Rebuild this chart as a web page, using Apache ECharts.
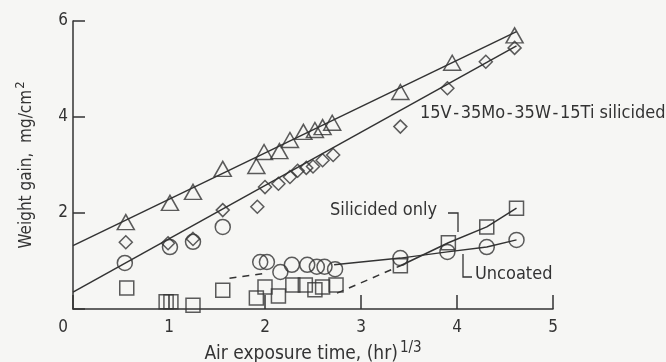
<!DOCTYPE html>
<html>
<head>
<meta charset="utf-8">
<script src="https://cdn.jsdelivr.net/npm/echarts@6/dist/echarts.min.js"></script>
<style>
  html, body { margin: 0; padding: 0; background: #f6f6f4; }
  #chart { width: 666px; height: 362px; }
</style>
</head>
<body>
<div id="chart"></div>
<script>
// [time^(1/3), weight gain]
const triangles = [[0.55, 1.81], [1.01, 2.21], [1.25, 2.44], [1.56, 2.92], [1.91, 2.98], [1.99, 3.27], [2.15, 3.29],
  [2.26, 3.52], [2.40, 3.69], [2.52, 3.73], [2.60, 3.79], [2.70, 3.88], [3.41, 4.52], [3.95, 5.13], [4.60, 5.70]]
const diamonds = [[0.55, 1.39], [0.99, 1.37], [1.25, 1.46], [1.56, 2.06], [1.92, 2.13], [2.00, 2.54], [2.14, 2.61],
  [2.26, 2.75], [2.34, 2.88], [2.43, 2.94], [2.50, 2.97], [2.60, 3.10], [2.71, 3.21], [3.41, 3.80], [3.90, 4.60],
  [4.30, 5.15], [4.60, 5.44]]
const circles = [[0.54, 0.96], [1.01, 1.29], [1.25, 1.40], [1.56, 1.71], [1.95, 0.98], [2.02, 0.98], [2.16, 0.77],
  [2.28, 0.92], [2.44, 0.92], [2.54, 0.88], [2.62, 0.88], [2.73, 0.83], [3.41, 1.06], [3.90, 1.19], [4.31, 1.29],
  [4.62, 1.44]]
const squares = [[0.56, 0.44], [0.97, 0.15], [1.02, 0.15], [1.25, 0.08], [1.56, 0.39], [1.91, 0.23], [2.00, 0.46],
  [2.14, 0.27], [2.29, 0.50], [2.42, 0.50], [2.52, 0.40], [2.60, 0.46], [2.74, 0.50], [3.41, 0.90], [3.91, 1.38],
  [4.31, 1.71], [4.62, 2.10]]

const fitTop = [[0, 1.32], [4.62, 5.78]]
const fitMid = [[0, 0.35], [4.62, 5.48]]
const uncoatedLine = [[2.72, 0.92], [3.41, 1.06], [3.90, 1.19], [4.31, 1.29], [4.62, 1.44]]
const silicidedLine = [[3.41, 0.90], [3.91, 1.38], [4.31, 1.71], [4.62, 2.10]]
const dashA = [[1.63, 0.64], [2.02, 0.75]]
const dashB = [[2.75, 0.33], [3.41, 0.90]]

const xTicks = [0, 1, 2, 3, 4, 5]
const yTicks = [2, 4, 6]

const ink = '#333'
const font = '"DejaVu Sans Condensed", "DejaVu Sans", sans-serif'

const chart = echarts.init(document.getElementById('chart'))

const markers = (data, symbol, size) => ({
  type: 'scatter',
  data,
  symbol,
  symbolSize: size,
  itemStyle: { color: 'transparent', borderColor: ink, borderWidth: 1.5 },
  z: 3
})
const line = (data, dashed) => ({
  type: 'line',
  data,
  symbol: 'none',
  lineStyle: { color: ink, width: 1.5, type: dashed ? [7, 6] : 'solid' },
  z: 2
})

chart.setOption({
  backgroundColor: '#f6f6f4',
  animation: false,
  grid: { left: 73, right: 113, top: 21, bottom: 53, containLabel: false, outerBoundsMode: 'none' },
  xAxis: {
    type: 'value',
    min: 0,
    max: 5,
    interval: 1,
    name: 'Air exposure time, (hr){sup|1/3}',
    nameLocation: 'middle',
    nameGap: 15,
    nameTextStyle: {
      color: ink, fontSize: 19, fontFamily: font,
      rich: { sup: { fontSize: 15, fontFamily: font, color: ink, padding: [0, 0, 12, 2] } }
    },
    axisLine: { lineStyle: { color: ink, width: 1.5 } },
    axisTick: { inside: true, length: 14, lineStyle: { color: ink, width: 1.5 } },
    splitLine: { show: false },
    axisLabel: {
      color: ink, fontSize: 17, fontFamily: font, margin: 10,
      formatter: (v) => xTicks.includes(v) ? (v === 0 ? '{z|0}' : String(v)) : '',
      rich: { z: { fontSize: 17, fontFamily: font, color: ink, padding: [0, 20, 0, 0] } }
    }
  },
  yAxis: {
    type: 'value',
    min: 0,
    max: 6,
    interval: 2,
    name: 'Weight gain,  mg/cm{sup|2}',
    nameLocation: 'middle',
    nameRotate: 90,
    nameGap: 34,
    nameTextStyle: {
      color: ink, fontSize: 17, fontFamily: font,
      rich: { sup: { fontSize: 13, fontFamily: font, color: ink, padding: [0, 0, 12, 1] } }
    },
    axisLine: { show: true, lineStyle: { color: ink, width: 1.5 } },
    axisTick: { inside: true, length: 12, lineStyle: { color: ink, width: 1.5 } },
    splitLine: { show: false },
    axisLabel: {
      color: ink, fontSize: 17, fontFamily: font, margin: 5,
      formatter: (v) => yTicks.includes(v) ? String(v) : ''
    }
  },
  graphic: [
    { type: 'text', left: 420, top: 104, style: { text: '15V\u200a-\u200a35Mo\u200a-\u200a35W\u200a-\u200a15Ti silicided', fill: ink, font: '18px ' + font } },
    { type: 'text', left: 330, top: 201, style: { text: 'Silicided only', fill: ink, font: '18px ' + font } },
    { type: 'text', left: 475, top: 265, style: { text: 'Uncoated', fill: ink, font: '18px ' + font } },
    { type: 'polyline', shape: { points: [[448, 213], [458, 213], [458, 232]] }, style: { stroke: ink, lineWidth: 1.3, fill: null } },
    { type: 'polyline', shape: { points: [[463, 254], [463, 277], [472, 277]] }, style: { stroke: ink, lineWidth: 1.3, fill: null } }
  ],
  series: [
    line(fitTop), line(fitMid), line(uncoatedLine), line(silicidedLine), line(dashA, true), line(dashB, true),
    markers(triangles, 'triangle', [17, 15]),
    markers(diamonds, 'diamond', [13, 13]),
    markers(circles, 'circle', 15),
    markers(squares, 'rect', 14)
  ]
})
</script>
</body>
</html>
